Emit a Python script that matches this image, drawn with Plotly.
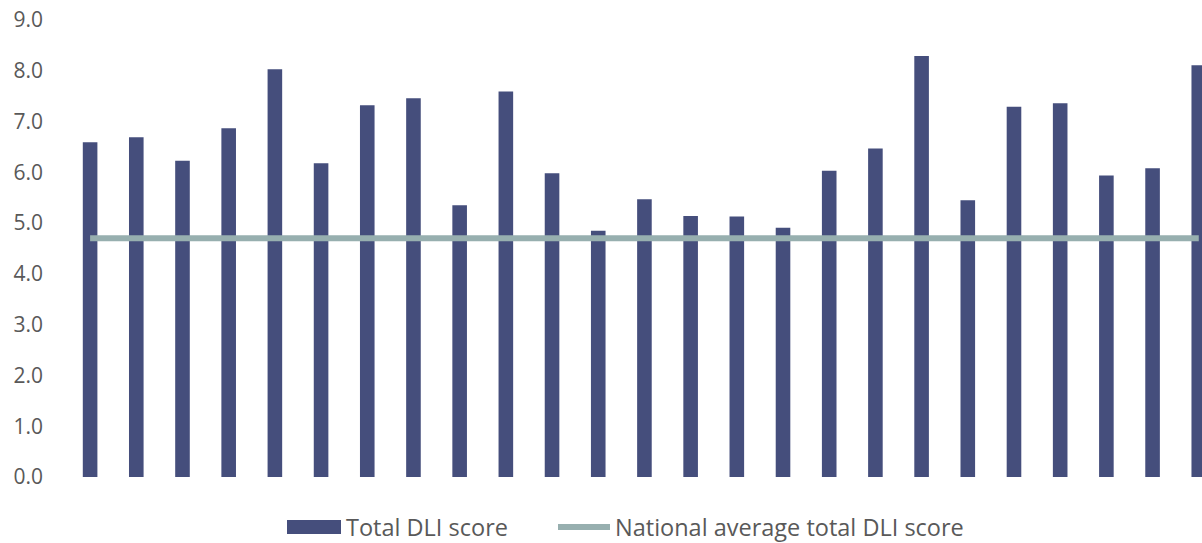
import plotly.graph_objects as go

# Total DLI score per area (areas are unlabelled on the axis)
areas = list(range(25))
total_dli = [6.59, 6.69, 6.23, 6.87, 8.03, 6.18, 7.32, 7.46, 5.35, 7.59,
             5.98, 4.85, 5.47, 5.14, 5.13, 4.91, 6.03, 6.47, 8.29, 5.45,
             7.29, 7.36, 5.94, 6.08, 8.11]
national_avg = 4.70

y_ticks = [0, 1, 2, 3, 4, 5, 6, 7, 8, 9]

BAR_COLOR = "#454E7C"
LINE_COLOR = "#97AFAF"
TEXT_COLOR = "#595959"
FONT = "'Open Sans', Lato, sans-serif"

W, H = 1202, 543
ML, MR, MT, MB = 67, 0, 20, 66
PW = W - ML - MR
PH = H - MT - MB

fig = go.Figure()
fig.add_trace(go.Bar(
    x=areas, y=total_dli, name="Total DLI score",
    marker=dict(color=BAR_COLOR, line=dict(width=0)),
    showlegend=False,
))
fig.add_trace(go.Scatter(
    x=areas, y=[national_avg] * len(areas), mode="lines",
    name="National average total DLI score",
    line=dict(color=LINE_COLOR, width=6),
    showlegend=False,
))


def px_x(px):
    return (px - ML) / PW


def px_y(py):
    return (H - MB - py) / PH


# Legend drawn beneath the plot
leg_y = px_y(527)
shapes = [
    dict(type="rect", xref="paper", yref="paper",
         x0=px_x(287), x1=px_x(341), y0=px_y(534), y1=px_y(520),
         fillcolor=BAR_COLOR, line=dict(width=0)),
    dict(type="line", xref="paper", yref="paper",
         x0=px_x(558), x1=px_x(610), y0=leg_y, y1=leg_y,
         line=dict(color=LINE_COLOR, width=6)),
]
annotations = [
    dict(text="Total DLI score", xref="paper", yref="paper",
         x=px_x(344), y=leg_y, xanchor="left", yanchor="middle",
         showarrow=False, font=dict(size=23.5, color=TEXT_COLOR, family=FONT)),
    dict(text="National average total DLI score", xref="paper", yref="paper",
         x=px_x(613), y=leg_y, xanchor="left", yanchor="middle",
         showarrow=False, font=dict(size=23.5, color=TEXT_COLOR, family=FONT)),
]

fig.update_layout(
    width=W, height=H,
    margin=dict(l=ML, r=MR, t=MT, b=MB, pad=0),
    paper_bgcolor="white", plot_bgcolor="white",
    bargap=0.684,
    font=dict(family=FONT, color=TEXT_COLOR, size=21),
    shapes=shapes, annotations=annotations,
    xaxis=dict(range=[-0.5, 24.07], showticklabels=False, showgrid=False,
               zeroline=False, showline=False, ticks=""),
    yaxis=dict(range=[0, 9], tickvals=y_ticks, tickformat=".1f",
               showgrid=False, zeroline=False, showline=False, ticks="",
               ticklabelstandoff=23,
               tickfont=dict(size=21, color=TEXT_COLOR, family=FONT)),
)

fig.write_html("out.html", config={"displayModeBar": False})
